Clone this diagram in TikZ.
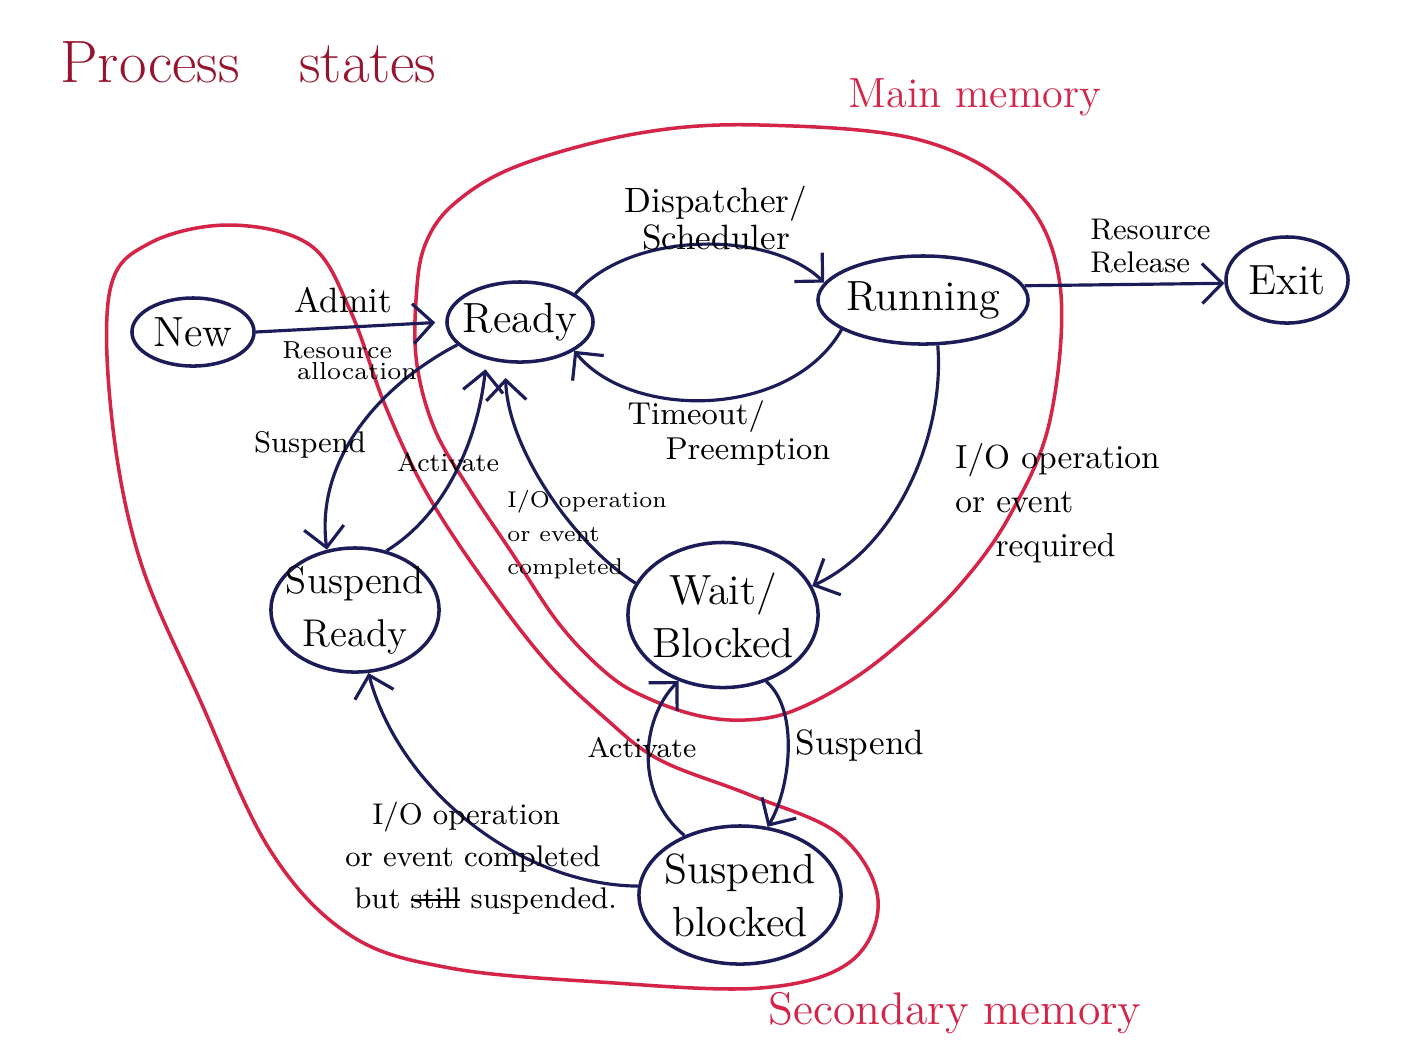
\documentclass[tikz,border=0pt]{standalone}
\usetikzlibrary{shapes.geometric,arrows.meta}

\definecolor{ink}{RGB}{28,28,88}
\definecolor{memred}{RGB}{212,36,72}
\definecolor{titlered}{RGB}{150,20,45}
\newcommand{\fsz}[2]{\fontsize{#1}{#2}\selectfont}
\newcommand{\crossout}[1]{\setbox0\hbox{#1}\rlap{\rule[0.6ex]{\wd0}{0.6pt}}\box0\relax}

\tikzset{
    state/.style={ellipse, draw=ink, line width=1pt, inner sep=-8pt, align=center, font=\fsz{12}{15}},
    trans/.style={draw=ink, line width=0.9pt, -{Straight Barb[length=2mm,width=4mm]}},
    memory/.style={draw=memred, line width=1pt},
    memtext/.style={text=memred}
}

\begin{document}
\begin{tikzpicture}[x=0.01cm, y=-0.01cm]
    \useasboundingbox (0,0) rectangle (1401,1063);

    \draw[memory] plot[smooth cycle, tension=0.6] coordinates {(416,300) (425,245) (455,203) (520,165) (640,133) (760,125) (920,140) (1020,195) (1060,285) (1050,420) (1010,515) (960,585) (900,643) (847,683) (790,712) (745,720) (700,716) (652,700) (610,676) (560,625) (510,550) (470,490) (435,430) (417,365)};
    \draw[memory] plot[smooth cycle, tension=0.6] coordinates {(110,290) (150,243) (230,225) (310,245) (350,310) (385,405) (425,490) (480,575) (545,660) (605,718) (660,760) (750,795) (840,835) (878,900) (850,962) (760,988) (600,982) (450,968) (350,935) (270,850) (200,700) (140,560) (112,420)};

    \node[text=titlered, font=\fsz{17}{20}, anchor=west] (title) at (48,62) {Process\quad states};
    \node[memtext, font=\fsz{12}{14}] (mainmem) at (975,97) {Main memory};
    \node[memtext, font=\fsz{13}{15}] (secmem) at (955,1013) {Secondary memory};

    \node[state, minimum width=1.22cm, minimum height=0.68cm] (new) at (193,332) {New};
    \node[state, minimum width=1.46cm, minimum height=0.80cm] (ready) at (520,322) {Ready};
    \node[state, minimum width=2.10cm, minimum height=0.88cm] (running) at (923,300) {Running};
    \node[state, minimum width=1.22cm, minimum height=0.86cm] (exit) at (1287,280) {Exit};
    \node[state, minimum width=1.68cm, minimum height=1.24cm, font=\fsz{11}{15}] (sready) at (355,610) {Suspend\\Ready};
    \node[state, minimum width=1.90cm, minimum height=1.45cm] (wait) at (723,615) {Wait/\\Blocked};
    \node[state, minimum width=2.02cm, minimum height=1.38cm] (sblocked) at (740,895) {Suspend\\blocked};

    \draw[trans, shorten >=1mm] (new.east) -- (ready.west);
    \draw[trans] (ready.27) .. controls (630,230) and (770,230) .. (running.170);
    \draw[trans] (running.200) .. controls (790,420) and (630,420) .. (ready.332);
    \draw[trans] (running.8) -- (exit.183);
    \draw[trans] (running.288) .. controls (945,430) and (900,545) .. (wait.18);
    \draw[trans, shorten >=1.5mm] (wait.160) .. controls (575,545) and (508,450) .. (ready.250);
    \draw[trans] (ready.200) .. controls (380,385) and (315,460) .. (sready.115);
    \draw[trans, shorten >=1mm] (sready.62) .. controls (445,515) and (478,440) .. (ready.228);
    \draw[trans] (wait.303) .. controls (800,710) and (790,790) .. (sblocked.68);
    \draw[trans] (sblocked.133) .. controls (635,795) and (640,720) .. (wait.236);
    \draw[trans] (sblocked.175) .. controls (520,885) and (400,790) .. (sready.282);

    \node[font=\fsz{10}{12}] (admit) at (343,300) {Admit};
    \node[font=\fsz{7}{6}, align=left, anchor=west] (resalloc) at (270,361) {Resource\\\hspace*{0.6em}allocation};
    \node[font=\fsz{10}{9}, align=center] (dispatch) at (716,218) {Dispatcher/\\Scheduler};
    \node[font=\fsz{9}{10}, align=left] (timeout) at (729,433) {Timeout/\\\hspace*{1.2em}Preemption};
    \node[font=\fsz{8.5}{9.5}, align=left, anchor=west] (release) at (1078,246) {Resource\\Release};
    \node[font=\fsz{9.5}{12.5}, align=left, anchor=west] (iorequired) at (943,503) {I/O operation\\or event\\\hspace*{1.2em}required};
    \node[font=\fsz{6.5}{9.5}, align=left, anchor=west] (iocompleted) at (495,535) {I/O operation\\or event\\completed};
    \node[font=\fsz{8.5}{10}] (suspendup) at (310,445) {Suspend};
    \node[font=\fsz{7.5}{9}] (activateup) at (448,462) {Activate};
    \node[font=\fsz{8}{10}] (activatedown) at (642,748) {Activate};
    \node[font=\fsz{10}{12}] (suspenddown) at (860,745) {Suspend};
    \node[font=\fsz{8.5}{12}, align=left, anchor=west] (ioresume) at (333,858) {\hspace*{0.9em}I/O operation\\or event completed\\\hspace*{0.3em}but \crossout{still} suspended.};
\end{tikzpicture}
\end{document}
